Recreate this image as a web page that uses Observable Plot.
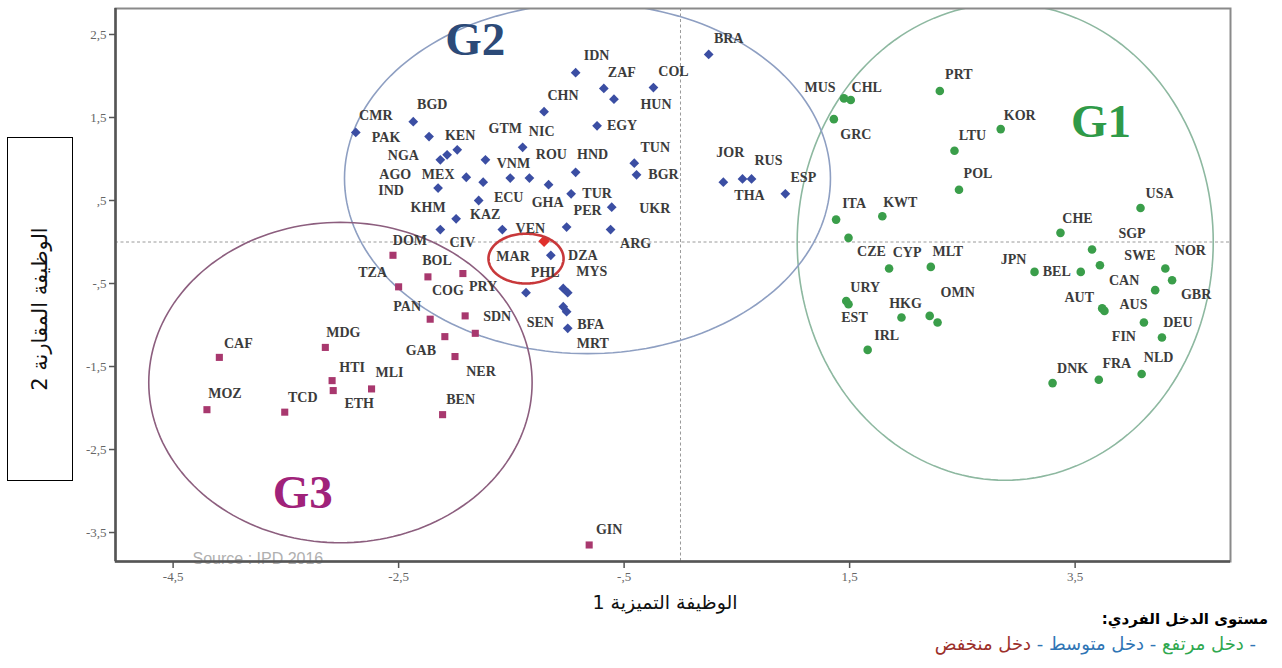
<!DOCTYPE html>
<html>
<head>
<meta charset="utf-8">
<script src="https://cdn.jsdelivr.net/npm/d3@7"></script>
<script src="https://cdn.jsdelivr.net/npm/@observablehq/plot@0.6"></script>
<style>
  body { margin: 0; background: #fff; overflow: hidden; }
  #wrap { position: relative; width: 1282px; height: 668px; }
  #chart { position: absolute; left: 0; top: 0; }
  #ytitle {
    position: absolute; left: 7px; top: 137px; width: 64px; height: 342px;
    border: 1px solid #000; background: #fff;
  }
  #ytitle span {
    position: absolute; left: 50%; top: 50%; white-space: nowrap;
    transform: translate(-50%, -50%) rotate(-90deg);
    font-family: "DejaVu Sans", sans-serif; font-size: 21px; color: #111;
  }
  #xtitle {
    position: absolute; left: 545px; width: 240px; top: 591px; text-align: center;
    font-family: "DejaVu Sans", sans-serif; font-size: 19px; color: #111; direction: rtl;
  }
  #legend {
    position: absolute; right: 14px; top: 610px; text-align: right; direction: rtl;
    font-family: "DejaVu Sans", sans-serif;
  }
  #legend .head { font-size: 15px; font-weight: bold; color: #000; }
  #legend .items { font-size: 18px; margin-top: 5px; margin-right: 12px; }
</style>
</head>
<body>
<div id="wrap">
  <div id="chart"></div>
  <div id="ytitle"><span>الوظيفة المقارنة 2</span></div>
  <div id="xtitle">الوظيفة التميزية 1</div>
  <div id="legend">
    <div class="head">مستوى الدخل الفردي:</div>
    <div class="items"><span style="color:#2f75b5">- </span><span style="color:#2fa84f">دخل مرتفع</span><span style="color:#2f75b5"> - </span><span style="color:#2f75b5">دخل متوسط</span><span style="color:#2f75b5"> - </span><span style="color:#9c2f2a">دخل منخفض</span></div>
  </div>
</div>
<script>
// Discriminant scores: function 1 (horizontal) and function 2 (vertical)

// G1 — high income
const g1Codes = ["MUS","CHL","GRC","PRT","KOR","LTU","POL","ITA","KWT","USA","CHE","CZE","SGP","CYP","MLT","JPN","BEL","SWE","NOR","GBR","CAN","URY","EST","HKG","OMN",null,"AUT","AUS","FIN","DEU","IRL","DNK","FRA","NLD"];
const g1F1 = [1.45,1.51,1.36,2.30,2.84,2.43,2.47,1.38,1.79,4.08,3.37,1.49,3.65,1.85,2.22,3.14,3.55,3.72,4.30,4.36,4.21,1.47,1.49,1.96,2.21,2.28,3.74,3.76,4.11,4.27,1.66,3.30,3.71,4.09];
const g1F2 = [1.73,1.71,1.48,1.82,1.36,1.10,0.63,0.27,0.31,0.41,0.11,0.05,-0.09,-0.32,-0.30,-0.36,-0.36,-0.28,-0.32,-0.46,-0.58,-0.71,-0.75,-0.91,-0.89,-0.97,-0.80,-0.83,-0.97,-1.15,-1.30,-1.70,-1.66,-1.59];

// G2 — middle income
const g2Codes = ["BRA","IDN","ZAF","HUN","COL","CHN","EGY","CMR","BGD","PAK","NGA","KEN","GTM","NIC","VNM","ROU","HND","TUN","BGR","AGO","MEX","IND","KAZ","GHA","ECU","TUR","UKR","KHM","CIV","VEN","PER","ARG","MAR","DZA","PRY","PHL","MYS","SEN","BFA","MRT","JOR","RUS","THA","ESP"];
const g2F1 = [0.25,-0.93,-0.68,-0.59,-0.24,-1.21,-0.74,-2.88,-2.37,-2.23,-2.13,-2.07,-1.98,-1.40,-1.73,-1.34,-0.93,-0.41,-0.39,-1.90,-1.75,-2.15,-1.51,-1.17,-1.79,-0.97,-0.61,-1.99,-2.13,-1.58,-1.01,-0.62,-1.21,-1.15,-1.37,-1.04,-1.00,-1.04,-1.01,-1.00,0.38,0.55,0.63,0.93];
const g2F2 = [2.26,2.04,1.85,1.72,1.86,1.57,1.40,1.32,1.45,1.27,0.99,1.05,1.11,1.14,0.99,0.77,0.84,0.95,0.81,0.78,0.72,0.65,0.77,0.69,0.50,0.58,0.42,0.28,0.15,0.15,0.18,0.15,0.01,-0.16,-0.61,-0.56,-0.61,-0.78,-0.84,-1.04,0.72,0.76,0.76,0.58];

// G3 — low income
const g3Codes = ["DOM","BOL","COG","TZA","PAN","SDN","GAB",null,"NER","BEN","MDG","HTI","ETH","MLI","CAF","MOZ","TCD","GIN"];
const g3F1 = [-2.55,-2.24,-1.93,-2.50,-2.22,-1.91,-2.09,-1.82,-2.00,-2.11,-3.15,-3.09,-3.08,-2.74,-4.09,-4.20,-3.51,-0.81];
const g3F2 = [-0.16,-0.42,-0.38,-0.54,-0.93,-0.89,-1.14,-1.10,-1.38,-2.08,-1.27,-1.67,-1.79,-1.77,-1.39,-2.02,-2.05,-3.65];

// Highlighted country
const highlight = "MAR";

// Axis ticks
const xTicks = [-4.5, -2.5, -0.5, 1.5, 3.5];
const xTickLabels = ["-4,5", "-2,5", "-,5", "1,5", "3,5"];
const yTicks = [2.5, 1.5, 0.5, -0.5, -1.5, -2.5, -3.5];
const yTickLabels = ["2,5", "1,5", ",5", "-,5", "-1,5", "-2,5", "-3,5"];

// Group names
const groupNames = ["G1", "G2", "G3"];

// ---- layout / styling ----
const groupStyle = {
  G1: {fill: "#3a9e4a", ring: "#8db8a0", label: "#2f9a48", anchor: [3.73, 1.45], ellipse: {cx: 2.88, cy: 0.0, rx: 1.845, ry: 2.87}},
  G2: {fill: "#3b4ea3", ring: "#8e9fc2", label: "#2c4a78", anchor: [-1.82, 2.43], ellipse: {cx: -0.825, cy: 0.765, rx: 2.155, ry: 2.11}},
  G3: {fill: "#a8386e", ring: "#8c5e7e", label: "#a0227a", anchor: [-3.35, -3.02], ellipse: {cx: -3.016, cy: -1.693, rx: 1.70, ry: 1.93}}
};
const highlightRing = {cx: -1.37, cy: -0.20, rx: 0.333, ry: 0.30};

// label offsets (px) from each marker
const labelOffset = {
  MUS:[-24,-11], CHL:[16,-13], GRC:[22,15], PRT:[19,-16], KOR:[19,-14], LTU:[18,-15], POL:[19,-16],
  ITA:[18,-16], KWT:[18,-14], USA:[19,-14], CHE:[17,-14], CZE:[23,14], SGP:[40,-16], CYP:[18,-16],
  MLT:[17,-15], JPN:[-21,-12], BEL:[-24,0], SWE:[40,-10], NOR:[25,-18], GBR:[24,14], CAN:[-31,-10],
  URY:[19,-13], EST:[6,13], HKG:[4,-14], OMN:[28,-23], AUT:[-23,-11], AUS:[29,-6], FIN:[-20,14],
  DEU:[16,-15], IRL:[19,-14], DNK:[20,-15], FRA:[18,-16], NLD:[17,-16],
  BRA:[20,-16], IDN:[21,-17], ZAF:[18,-16], HUN:[42,5], COL:[20,-16], CHN:[19,-16], EGY:[25,0],
  CMR:[20,-17], BGD:[19,-17], PAK:[-43,1], NGA:[-37,-4], KEN:[13,-19], GTM:[48,-21], NIC:[19,-16],
  VNM:[28,4], ROU:[22,-24], HND:[17,-18], TUN:[21,-16], BGR:[27,0], AGO:[-71,-3], MEX:[-45,-8],
  IND:[-47,2], KAZ:[-25,36], GHA:[-1,18], ECU:[30,-3], TUR:[26,0], UKR:[43,1], KHM:[-28,-11],
  CIV:[22,13], VEN:[28,-1], PER:[21,-17], ARG:[25,14], MAR:[-31,15], DZA:[32,0], PRY:[-43,-6],
  PHL:[-18,-16], MYS:[24,-21], SEN:[-23,16], BFA:[24,13], MRT:[25,15], JOR:[7,-30], RUS:[26,-18],
  THA:[-2,17], ESP:[18,-16],
  DOM:[17,-15], BOL:[9,-16], COG:[-15,17], TZA:[-26,-14], PAN:[-23,-13], SDN:[32,1], GAB:[-24,14],
  NER:[26,15], BEN:[18,-15], MDG:[18,-15], HTI:[20,-13], ETH:[26,13], MLI:[18,-16], CAF:[19,-14],
  MOZ:[18,-16], TCD:[18,-15], GIN:[20,-15]
};

const toRows = (group, codes, f1, f2) => codes.map((code, i) => ({group, code, f1: f1[i], f2: f2[i]}));
const g1 = toRows("G1", g1Codes, g1F1, g1F2);
const g2 = toRows("G2", g2Codes, g2F1, g2F2);
const g3 = toRows("G3", g3Codes, g3F1, g3F2);
const all = [...g3, ...g2, ...g1];

function ellipsePoints({cx, cy, rx, ry}) {
  return d3.range(0, 361, 2).map(a => {
    const t = a * Math.PI / 180;
    return {x: cx + rx * Math.cos(t), y: cy + ry * Math.sin(t)};
  });
}

const xDomain = [-5.011, 4.878];
const yDomain = [-3.849, 2.813];
const serif = "Liberation Serif, Times New Roman, serif";

const labelMarks = all.filter(d => d.code && labelOffset[d.code]).map(d =>
  Plot.text([d], {
    x: "f1", y: "f2", text: "code",
    dx: labelOffset[d.code][0], dy: labelOffset[d.code][1],
    fontFamily: serif, fontSize: 14, fontWeight: "bold", fill: "#3b3b3b"
  })
);

const chart = Plot.plot({
  width: 1282,
  height: 592,
  marginLeft: 115,
  marginRight: 52,
  marginTop: 8,
  marginBottom: 31,
  x: {domain: xDomain, axis: null},
  y: {domain: yDomain, axis: null},
  style: {background: "transparent", overflow: "visible"},
  marks: [
    Plot.ruleX([0], {stroke: "#9a9a9a", strokeDasharray: "3,2.5", strokeWidth: 1}),
    Plot.ruleY([0], {stroke: "#9a9a9a", strokeDasharray: "3,2.5", strokeWidth: 1}),
    ...groupNames.map(g => Plot.line(ellipsePoints(groupStyle[g].ellipse), {
      x: "x", y: "y", stroke: groupStyle[g].ring, strokeWidth: 1.6, clip: true
    })),
    Plot.dot(g3, {x: "f1", y: "f2", symbol: "square", r: 4, fill: groupStyle.G3.fill}),
    Plot.dot(g2, {x: "f1", y: "f2", symbol: "diamond2", r: 4.4, fill: groupStyle.G2.fill}),
    Plot.dot(g1, {x: "f1", y: "f2", symbol: "circle", r: 4.3, fill: groupStyle.G1.fill}),
    Plot.dot(g2.filter(d => d.code === highlight), {x: "f1", y: "f2", symbol: "diamond2", r: 5.2, fill: "#e0302c"}),
    Plot.line(ellipsePoints(highlightRing), {x: "x", y: "y", stroke: "#c8383a", strokeWidth: 2.6}),
    ...labelMarks,
    Plot.text(groupNames, {
      x: g => groupStyle[g].anchor[0], y: g => groupStyle[g].anchor[1], text: d => d,
      fill: g => groupStyle[g].label, fontFamily: serif, fontWeight: "bold", fontSize: 47
    }),
    Plot.text(["Source : IPD 2016"], {
      frameAnchor: "bottom-left", dx: 77, dy: 2, textAnchor: "start", lineAnchor: "bottom",
      fontFamily: "Liberation Sans, Arial, sans-serif", fontSize: 16, fill: "#b0b0b0"
    }),
    Plot.frame({stroke: "#8a8a8a", strokeWidth: 2}),
    Plot.ruleX([xDomain[0]], {stroke: "#555", strokeWidth: 2.5}),
    Plot.ruleY([yDomain[0]], {stroke: "#555", strokeWidth: 2.5}),
    Plot.axisX(xTicks, {
      tickSize: 7, tickPadding: 3, stroke: "#555", strokeWidth: 1.5,
      tickFormat: d => xTickLabels[xTicks.indexOf(d)],
      fontFamily: serif, fontSize: 13, fill: "#666"
    }),
    Plot.axisY(yTicks, {
      tickSize: 6, tickPadding: 3, stroke: "#555", strokeWidth: 1.5,
      tickFormat: d => yTickLabels[yTicks.indexOf(d)],
      fontFamily: serif, fontSize: 13, fill: "#666"
    })
  ]
});
document.getElementById("chart").appendChild(chart);
</script>
</body>
</html>
